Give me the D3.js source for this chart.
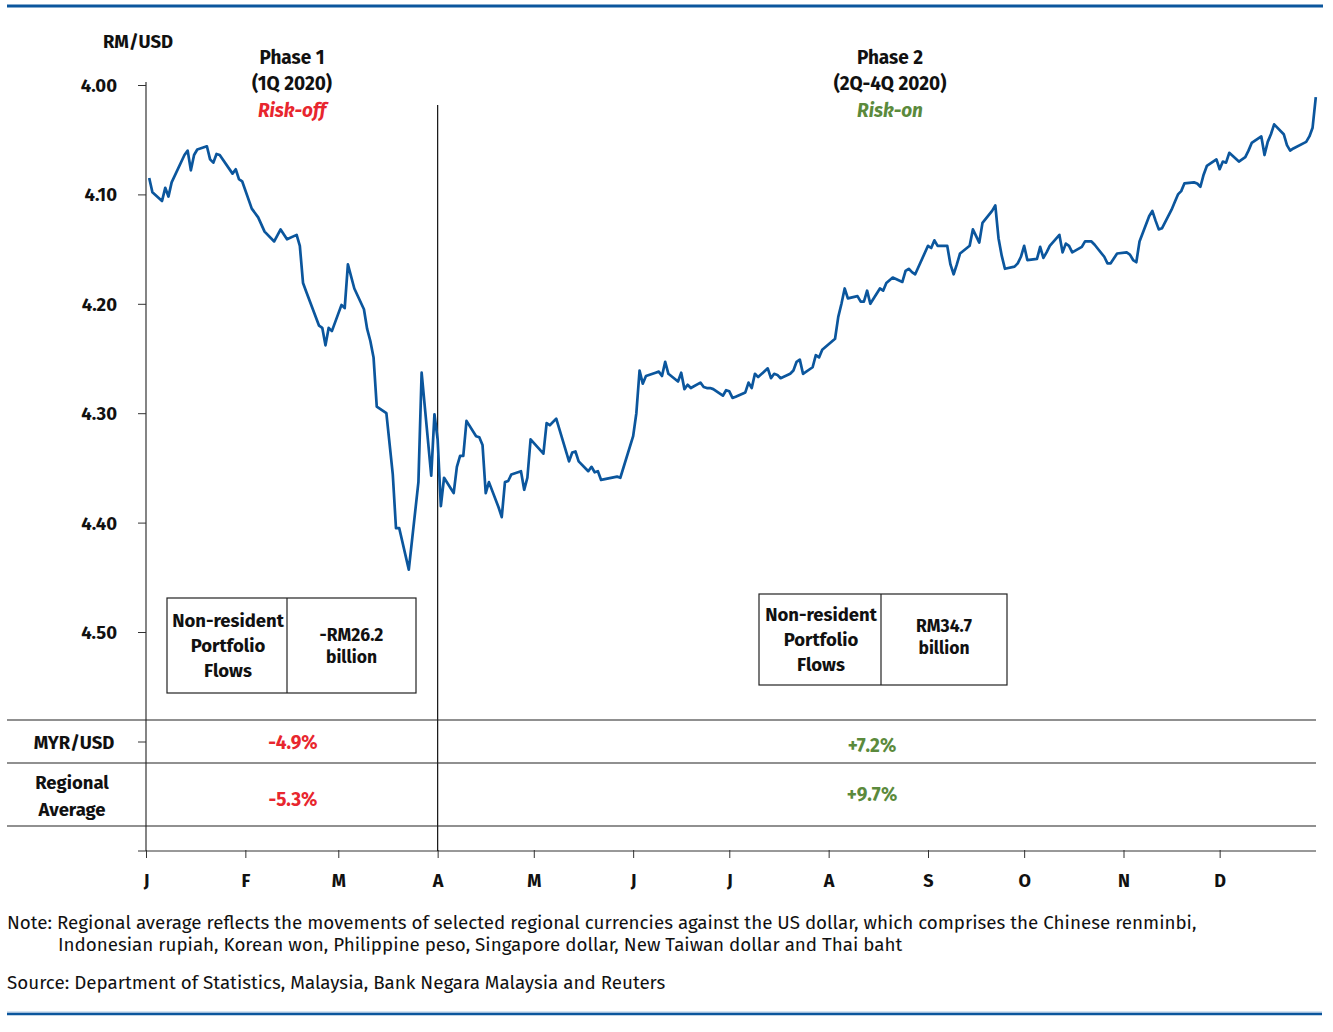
<!DOCTYPE html>
<html>
<head>
<meta charset="utf-8">
<script src="https://cdn.jsdelivr.net/npm/d3@7"></script>
<style>
  body { margin: 0; background: #fff; }
  svg text { font-family: "Fira Sans", "Noto Sans", sans-serif; fill: #111; }
</style>
</head>
<body>
<svg id="chart" width="1333" height="1032"></svg>
<script>
// daily MYR/USD (RM per USD)
const dates = [
  "01-02","01-03","01-06","01-07","01-08","01-09","01-13","01-14","01-15","01-16","01-17",
  "01-20","01-21","01-22","01-23","01-24","01-28","01-29","01-30","01-31",
  "02-03","02-04","02-05","02-07","02-10","02-12","02-14","02-17","02-18","02-19","02-20",
  "02-24","02-25","02-26","02-27","02-28",
  "03-02","03-03","03-04","03-06","03-09","03-10","03-11","03-12","03-13","03-16","03-18",
  "03-19","03-20","03-23","03-26","03-27","03-30","03-31",
  "04-01","04-02","04-03","04-06","04-07","04-08","04-09","04-10","04-13","04-14","04-15",
  "04-16","04-17","04-20","04-21","04-22","04-23","04-24","04-27","04-28","04-29","04-30",
  "05-04","05-05","05-06","05-08","05-12","05-13","05-14","05-15","05-18","05-19","05-20",
  "05-21","05-22","05-27","05-28",
  "06-01","06-02","06-03","06-04","06-05","06-08","06-09","06-10","06-11","06-12","06-15",
  "06-16","06-17","06-18","06-19","06-22","06-23","06-24","06-25","06-26","06-29","06-30",
  "07-01","07-02","07-03","07-06","07-07","07-08","07-09","07-10","07-13","07-14","07-15",
  "07-16","07-17","07-20","07-21","07-22","07-23","07-24","07-27","07-28","07-29","07-30",
  "08-03","08-04","08-05","08-06","08-07","08-10","08-11","08-12","08-13","08-14","08-17",
  "08-18","08-19","08-21","08-24","08-25","08-26","08-27","08-28",
  "09-01","09-02","09-03","09-04","09-07","09-08","09-09","09-10","09-11","09-14","09-15",
  "09-17","09-18","09-21","09-22","09-23","09-24","09-25","09-28","09-29","09-30",
  "10-01","10-02","10-05","10-06","10-07","10-08","10-09","10-12","10-13","10-14","10-15",
  "10-16","10-19","10-20","10-21","10-22","10-23","10-26","10-27","10-28","10-30",
  "11-02","11-03","11-04","11-05","11-06","11-09","11-10","11-11","11-12","11-13","11-16",
  "11-17","11-18","11-19","11-20","11-23","11-24","11-25","11-26","11-27","11-30",
  "12-01","12-02","12-03","12-04","12-07","12-08","12-09","12-10","12-11","12-14","12-15",
  "12-16","12-17","12-18","12-21","12-22","12-23","12-24","12-28","12-29","12-30","12-31"
];
const rates = [
  4.085,4.098,4.106,4.094,4.102,4.089,4.064,4.060,4.078,4.064,4.059,
  4.056,4.068,4.071,4.063,4.064,4.081,4.077,4.086,4.088,
  4.113,4.117,4.121,4.134,4.143,4.132,4.141,4.137,4.147,4.181,4.189,
  4.220,4.222,4.238,4.222,4.225,
  4.201,4.204,4.164,4.186,4.205,4.223,4.234,4.249,4.294,4.300,4.356,
  4.405,4.405,4.443,4.363,4.263,4.357,4.301,
  4.324,4.385,4.359,4.373,4.349,4.339,4.339,4.307,4.321,4.322,4.329,
  4.373,4.363,4.386,4.395,4.363,4.362,4.356,4.353,4.370,4.359,4.324,
  4.337,4.309,4.311,4.305,4.344,4.336,4.335,4.344,4.353,4.349,4.354,
  4.353,4.361,4.358,4.359,
  4.321,4.300,4.261,4.273,4.266,4.263,4.262,4.266,4.253,4.264,4.271,
  4.263,4.278,4.274,4.277,4.272,4.276,4.277,4.277,4.278,4.284,4.279,
  4.280,4.286,4.285,4.281,4.272,4.277,4.264,4.267,4.259,4.268,4.264,
  4.265,4.268,4.264,4.261,4.253,4.251,4.264,4.258,4.247,4.249,4.242,
  4.232,4.212,4.200,4.186,4.195,4.193,4.198,4.198,4.188,4.200,4.186,
  4.188,4.181,4.176,4.180,4.170,4.168,4.171,4.173,
  4.147,4.149,4.142,4.147,4.147,4.164,4.173,4.164,4.154,4.147,4.132,
  4.144,4.126,4.115,4.110,4.140,4.156,4.168,4.166,4.163,4.157,
  4.147,4.160,4.159,4.148,4.158,4.153,4.147,4.137,4.153,4.145,4.147,
  4.153,4.148,4.143,4.143,4.143,4.146,4.157,4.163,4.163,4.154,
  4.153,4.155,4.160,4.162,4.143,4.120,4.115,4.124,4.132,4.131,4.114,
  4.107,4.100,4.097,4.090,4.089,4.090,4.093,4.082,4.074,4.068,
  4.077,4.070,4.071,4.062,4.070,4.068,4.066,4.060,4.053,4.047,4.064,
  4.052,4.045,4.036,4.045,4.055,4.060,4.058,4.052,4.047,4.039,4.011
];
const yTicks = [4.00, 4.10, 4.20, 4.30, 4.40, 4.50];
const monthLabels = ["J","F","M","A","M","J","J","A","S","O","N","D"];

const phases = [
  {title: "Phase 1", period: "(1Q 2020)", mood: "Risk-off", flows: ["-RM26.2", "billion"], myr: "-4.9%", regional: "-5.3%"},
  {title: "Phase 2", period: "(2Q-4Q 2020)", mood: "Risk-on", flows: ["RM34.7", "billion"], myr: "+7.2%", regional: "+9.7%"}
];

const red = "#e8262e", green = "#5b8a3c", blue = "#0b569d";
const font = '"Fira Sans", "Noto Sans", sans-serif';
const parse = d3.timeParse("%Y-%m-%d");
const series = dates.map((d, i) => ({date: parse("2020-" + d), value: rates[i]}));

const svg = d3.select("#chart");

const x = d3.scaleTime()
  .domain([new Date(2020, 0, 1), new Date(2021, 0, 1)])
  .range([146, 1319]);
const y = d3.scaleLinear().domain([4.00, 4.50]).range([85, 632]);

// top and bottom rules
svg.append("line").attr("x1", 7).attr("x2", 1323).attr("y1", 6).attr("y2", 6)
  .attr("stroke", blue).attr("stroke-width", 3);
svg.append("line").attr("x1", 7).attr("x2", 1322).attr("y1", 1012).attr("y2", 1012)
  .attr("stroke", "#a9c4e0").attr("stroke-width", 1);
svg.append("line").attr("x1", 7).attr("x2", 1322).attr("y1", 1014).attr("y2", 1014)
  .attr("stroke", blue).attr("stroke-width", 2.5);

// y axis
const yAxis = svg.append("g").attr("transform", "translate(146,0)")
  .call(d3.axisLeft(y).tickValues(yTicks).tickFormat(d3.format(".2f")).tickSize(8).tickPadding(21));
yAxis.select(".domain").remove();
yAxis.selectAll("line").attr("stroke", "#333");
yAxis.selectAll("text").attr("font-size", 18.5).attr("font-weight", "bold").attr("fill", "#111")
  .attr("dy", "0.35em").style("font-family", font);
svg.append("line").attr("x1", 146).attr("x2", 146).attr("y1", 82).attr("y2", 851)
  .attr("stroke", "#333").attr("stroke-width", 1.2);
svg.append("line").attr("x1", 138).attr("x2", 146).attr("y1", 742).attr("y2", 742)
  .attr("stroke", "#333");

svg.append("text").attr("x", 138).attr("y", 48).attr("text-anchor", "middle")
  .attr("font-size", 18.5).attr("font-weight", "bold").text("RM/USD");

// x axis
const xAxis = svg.append("g").attr("transform", "translate(0,851)")
  .call(d3.axisBottom(x).ticks(d3.timeMonth.every(1))
    .tickFormat(d => monthLabels[d.getMonth()]).tickSizeInner(8).tickSizeOuter(0).tickPadding(15));
xAxis.select(".domain").attr("d", "M138,0H1316").attr("stroke", "#333");
xAxis.selectAll(".tick line").attr("y1", -1).attr("y2", 7).attr("stroke", "#333");
xAxis.selectAll(".tick").filter(d => d.getFullYear() > 2020).remove();
xAxis.selectAll("text").attr("font-size", 18).attr("font-weight", "bold").attr("fill", "#111")
  .style("font-family", font);

// phase divider
const split = x(new Date(2020, 3, 1));
svg.append("line").attr("x1", split).attr("x2", split).attr("y1", 105).attr("y2", 851)
  .attr("stroke", "#111").attr("stroke-width", 1.2);

// table rows
[720, 763, 826].forEach(ly => {
  svg.append("line").attr("x1", 7).attr("x2", 1316).attr("y1", ly).attr("y2", ly)
    .attr("stroke", "#222").attr("stroke-width", 1.2);
});
const rowLabels = svg.append("g").attr("text-anchor", "middle").attr("font-size", 18.5).attr("font-weight", "bold");
rowLabels.append("text").attr("x", 74).attr("y", 749).text("MYR/USD");
rowLabels.append("text").attr("x", 72).attr("y", 789).text("Regional");
rowLabels.append("text").attr("x", 72).attr("y", 816).text("Average");

// phase headers, boxes and row values
const headerX = [292, 890];
const boxes = [
  {x0: 167, x1: 416, xm: 287, y0: 598, y1: 693},
  {x0: 759, x1: 1007, xm: 881, y0: 594, y1: 685}
];
const valueX = [293, 872];
const valueY = [[749, 806], [752, 801]];

phases.forEach((p, i) => {
  const col = i === 0 ? red : green;
  const h = svg.append("g").attr("text-anchor", "middle").attr("font-size", 19).attr("font-weight", "bold");
  h.append("text").attr("x", headerX[i]).attr("y", 64).text(p.title);
  h.append("text").attr("x", headerX[i]).attr("y", 90).text(p.period);
  h.append("text").attr("x", headerX[i]).attr("y", 117).attr("font-style", "italic")
    .style("fill", col).text(p.mood);

  const b = boxes[i];
  svg.append("rect").attr("x", b.x0).attr("y", b.y0).attr("width", b.x1 - b.x0).attr("height", b.y1 - b.y0)
    .attr("fill", "#fff").attr("stroke", "#222").attr("stroke-width", 1.2);
  svg.append("line").attr("x1", b.xm).attr("x2", b.xm).attr("y1", b.y0).attr("y2", b.y1)
    .attr("stroke", "#222").attr("stroke-width", 1.2);
  const lx = (b.x0 + b.xm) / 2, rx = (b.xm + b.x1) / 2, cy = (b.y0 + b.y1) / 2;
  ["Non-resident", "Portfolio", "Flows"].forEach((t, k) => {
    svg.append("text").attr("x", lx + 1).attr("y", cy + (k - 1) * 25 + 6).attr("text-anchor", "middle")
      .attr("font-size", 18.5).attr("font-weight", "bold").text(t);
  });
  p.flows.forEach((t, k) => {
    svg.append("text").attr("x", rx).attr("y", cy - 5 + k * 22 - (i === 0 ? 0 : 3)).attr("text-anchor", "middle")
      .attr("font-size", 17.5).attr("font-weight", "bold").text(t);
  });

  svg.append("text").attr("x", valueX[i]).attr("y", valueY[i][0]).attr("text-anchor", "middle")
    .attr("font-size", 19).attr("font-weight", "bold").style("fill", col).text(p.myr);
  svg.append("text").attr("x", valueX[i]).attr("y", valueY[i][1]).attr("text-anchor", "middle")
    .attr("font-size", 19).attr("font-weight", "bold").style("fill", col).text(p.regional);
});

// the exchange rate line
const line = d3.line().x(d => x(d.date)).y(d => y(d.value));
svg.append("path").datum(series)
  .attr("fill", "none").attr("stroke", blue).attr("stroke-width", 2.7)
  .attr("stroke-linejoin", "round").attr("d", line);

// notes
const notes = svg.append("g").attr("font-size", 18.8);
notes.append("text").attr("x", 7).attr("y", 929)
  .text("Note: Regional average reflects the movements of selected regional currencies against the US dollar, which comprises the Chinese renminbi,");
notes.append("text").attr("x", 58).attr("y", 951)
  .text("Indonesian rupiah, Korean won, Philippine peso, Singapore dollar, New Taiwan dollar and Thai baht");
notes.append("text").attr("x", 7).attr("y", 989)
  .text("Source: Department of Statistics, Malaysia, Bank Negara Malaysia and Reuters");
</script>
</body>
</html>
